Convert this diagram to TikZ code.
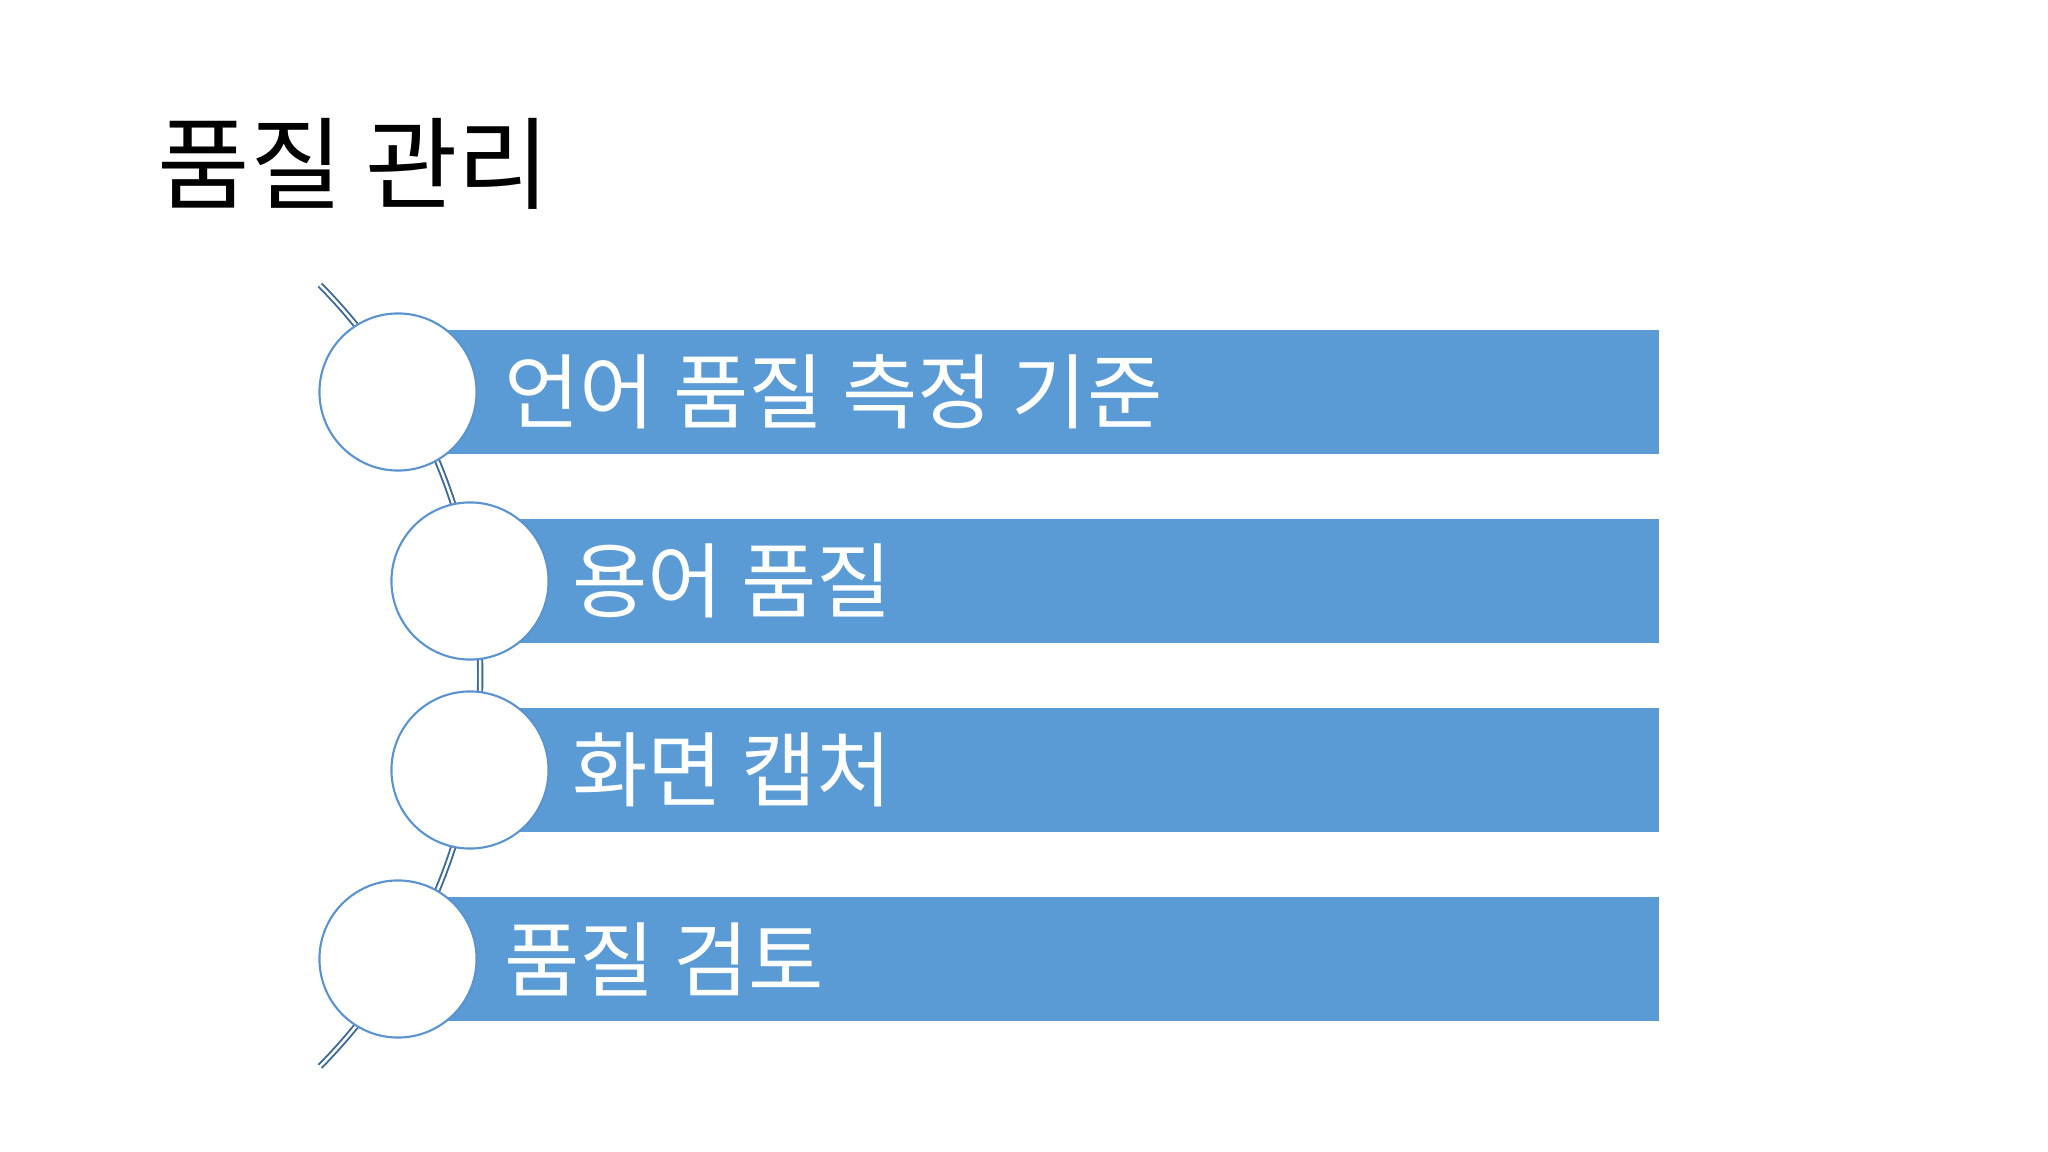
\documentclass[tikz,border=0pt]{standalone}
\usepackage{fontspec}
\setmainfont{Noto Sans CJK KR}
\usetikzlibrary{positioning}
\definecolor{barblue}{HTML}{5B9BD5}
\definecolor{ringblue}{HTML}{5B93CF}
\definecolor{spineblue}{HTML}{3E6A96}

\begin{document}
\begin{tikzpicture}[x=0.01cm, y=0.01cm,
    disc/.style={circle, draw=ringblue, line width=0.6pt, fill=white, minimum size=1.57cm, inner sep=0pt},
    bar/.style={rectangle, fill=barblue, minimum height=1.23cm, inner sep=0pt, anchor=west},
    item/.style={text=white, inner sep=0pt, font=\fontsize{23.3pt}{27pt}\selectfont},
    spine/.style={draw=spineblue, line width=0.55pt, double=white, double distance=0.7pt}]
    \useasboundingbox[fill=white] (0,0) rectangle (2048,-1152);
    \node[anchor=west, inner sep=0pt, font=\fontsize{28.6pt}{33pt}\selectfont] (title) at (157,-164) {품질 관리};
    % spine behind the discs
    \coordinate (top) at (320,-285);
    \draw[spine] (top) arc[start angle=44.6, end angle=-44.6, radius=556.5];
    \coordinate (p1) at (398,-392);
    \coordinate (p2) at (470,-581);
    \coordinate (p3) at (470,-770);
    \coordinate (p4) at (398,-959);
    \node[bar, minimum width=12.6cm] (bar1) at (p1) {};
    \node[bar, minimum width=11.88cm] (bar2) at (p2) {};
    \node[bar, minimum width=11.88cm] (bar3) at (p3) {};
    \node[bar, minimum width=12.6cm] (bar4) at (p4) {};
    \node[disc] (c1) at (p1) {};
    \node[disc] (c2) at (p2) {};
    \node[disc] (c3) at (p3) {};
    \node[disc] (c4) at (p4) {};
    \node[item, right=0.26cm of c1] (t1) {언어 품질 측정 기준};
    \node[item, right=0.22cm of c2] (t2) {용어 품질};
    \node[item, right=0.22cm of c3] (t3) {화면 캡처};
    \node[item, right=0.26cm of c4] (t4) {품질 검토};
\end{tikzpicture}
\end{document}
